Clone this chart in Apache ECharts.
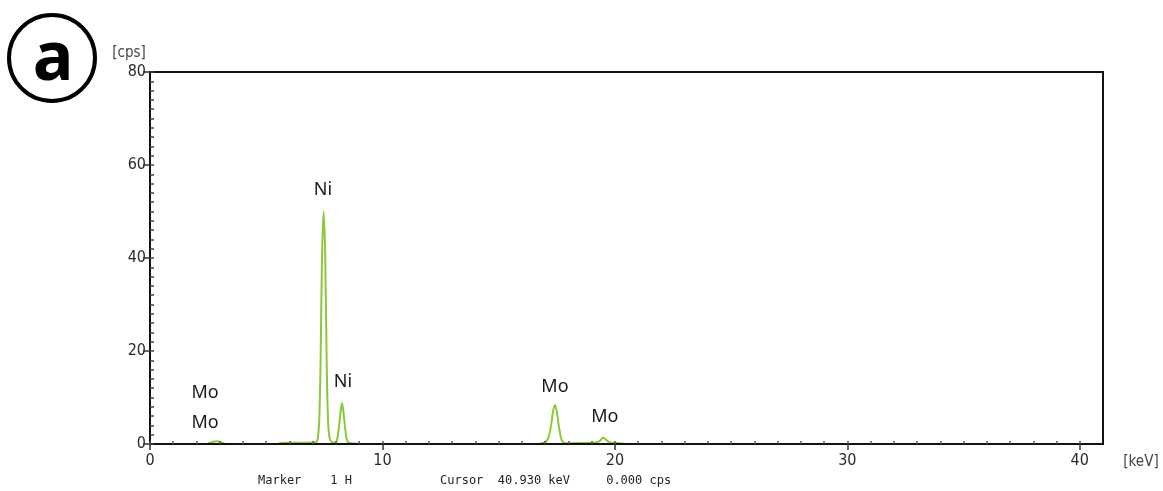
<!DOCTYPE html>
<html><head><meta charset="utf-8">
<script src="https://cdn.jsdelivr.net/npm/echarts@6/dist/echarts.min.js"></script>
<style>html,body{margin:0;padding:0;background:#fff}#c{width:1163px;height:491px}</style>
</head><body><div id="c"></div>
<script>
// spectrum (keV, cps)
const energyKeV = [0, 2.4, 2.5, 2.58, 2.7, 2.88, 3.0, 3.14, 3.3, 5.5, 5.6, 6.0, 6.5, 7.0, 7.15, 7.22, 7.28, 7.34, 7.40, 7.47, 7.54, 7.60, 7.66, 7.73, 7.82, 7.95, 8.03, 8.11, 8.19, 8.26, 8.33, 8.41, 8.49, 8.6, 8.8, 9.0, 16.7, 16.9, 17.05, 17.15, 17.25, 17.34, 17.42, 17.5, 17.6, 17.7, 17.8, 17.95, 18.3, 18.6, 19.0, 19.25, 19.38, 19.5, 19.62, 19.75, 19.9, 20.1, 20.3, 20.5, 41];
const countsCps = [0, 0, 0.05, 0.3, 0.5, 0.6, 0.5, 0.2, 0, 0, 0.2, 0.25, 0.25, 0.3, 0.4, 1.2, 5, 18, 40, 50, 40, 18, 5, 1.2, 0.4, 0.3, 0.6, 2.8, 6.5, 8.8, 6.5, 2.8, 0.6, 0.2, 0.1, 0, 0, 0.2, 0.6, 1.5, 3.8, 7, 8.4, 7, 3.5, 1.0, 0.3, 0.15, 0.2, 0.2, 0.25, 0.4, 0.8, 1.4, 0.9, 0.4, 0.25, 0.2, 0.1, 0, 0];
// peak labels (name, keV, cps position of the label)
const peakNames = ['Ni', 'Ni', 'Mo', 'Mo', 'Mo', 'Mo'];
const peakKeV = [7.44, 8.3, 17.42, 19.57, 2.37, 2.37];
const peakLabelCps = [54.6, 13.3, 12.3, 5.8, 11.0, 4.5];
// axes
const xTickValues = [0, 10, 20, 30, 40];
const yTickValues = [0, 20, 40, 60, 80];

const spectrum = energyKeV.map((e, i) => [e, countsCps[i]]);
const labels = peakNames.map((n, i) => ({ name: n, value: [peakKeV[i], peakLabelCps[i]] }));
const fontAxis = '"DejaVu Sans Condensed","Liberation Sans Narrow",sans-serif';
const mono = '"DejaVu Sans Mono","Liberation Mono",monospace';

const chart = echarts.init(document.getElementById('c'), null, { renderer: 'canvas' });
chart.setOption({
  animation: false,
  backgroundColor: '#fff',
  grid: { left: 150, right: 60, top: 72, bottom: 47, show: true, borderColor: '#111', borderWidth: 2, backgroundColor: 'transparent', z: 10 },
  xAxis: [{
    type: 'value', min: 0, max: 41, z: 10,
    axisLine: { show: true, lineStyle: { color: '#111', width: 2 } },
    axisTick: { show: true, inside: false, length: 6, lineStyle: { color: '#333', width: 1.5 }, customValues: xTickValues },
    axisLabel: { show: true, customValues: xTickValues, color: '#2a2a2a', fontSize: 16, fontFamily: fontAxis, margin: 9 },
    splitLine: { show: false }
  }, {
    type: 'value', min: 0, max: 41, position: 'bottom', z: 10,
    axisLine: { show: false },
    axisTick: { show: true, inside: true, length: 3, lineStyle: { color: '#555', width: 1.5 }, customValues: Array.from({ length: 41 }, (_, i) => i) },
    axisLabel: { show: false },
    splitLine: { show: false }
  }],
  yAxis: [{
    type: 'value', min: 0, max: 80, z: 10,
    axisLine: { show: true, lineStyle: { color: '#111', width: 2 } },
    axisTick: { show: true, inside: false, length: 7, lineStyle: { color: '#333', width: 1.5 }, customValues: yTickValues },
    axisLabel: { show: true, customValues: yTickValues, color: '#2a2a2a', fontSize: 16, fontFamily: fontAxis, margin: 4 },
    splitLine: { show: false }
  }, {
    type: 'value', min: 0, max: 80, position: 'left', z: 10,
    axisLine: { show: false },
    axisTick: { show: true, inside: true, length: 4, lineStyle: { color: '#444', width: 1.5 }, customValues: Array.from({ length: 41 }, (_, i) => i * 2) },
    axisLabel: { show: false },
    splitLine: { show: false }
  }],
  series: [{
    type: 'line', data: spectrum, xAxisIndex: 0, yAxisIndex: 0,
    showSymbol: false, smooth: 0.35, z: 2,
    lineStyle: { color: '#8cc83c', width: 2 }
  }, {
    type: 'scatter', data: labels, symbolSize: 0, xAxisIndex: 0, yAxisIndex: 0, z: 5,
    itemStyle: { opacity: 1 },
    label: { show: true, position: 'inside', formatter: p => p.name, color: '#1a1a1a', opacity: 1, fontSize: 18, fontFamily: '"Noto Sans","Open Sans",sans-serif' }
  }],
  graphic: [
    { type: 'circle', shape: { cx: 52, cy: 58, r: 43 }, style: { fill: 'none', stroke: '#000', lineWidth: 4 } },
    { type: 'text', x: 53, y: 61, style: { text: 'a', fill: '#000', font: 'bold 68px "Noto Sans","Open Sans",sans-serif', align: 'center', verticalAlign: 'middle' } },
    { type: 'text', x: 129, y: 53, style: { text: '[cps]', fill: '#444', font: '15px ' + fontAxis, align: 'center', verticalAlign: 'middle' } },
    { type: 'text', x: 1141, y: 462, style: { text: '[keV]', fill: '#444', font: '15px ' + fontAxis, align: 'center', verticalAlign: 'middle' } },
    { type: 'text', x: 258, y: 481, style: { text: 'Marker    1 H', fill: '#222', font: '12px ' + mono, align: 'left', verticalAlign: 'middle' } },
    { type: 'text', x: 440, y: 481, style: { text: 'Cursor  40.930 keV     0.000 cps', fill: '#222', font: '12px ' + mono, align: 'left', verticalAlign: 'middle' } }
  ]
});
</script></body></html>
